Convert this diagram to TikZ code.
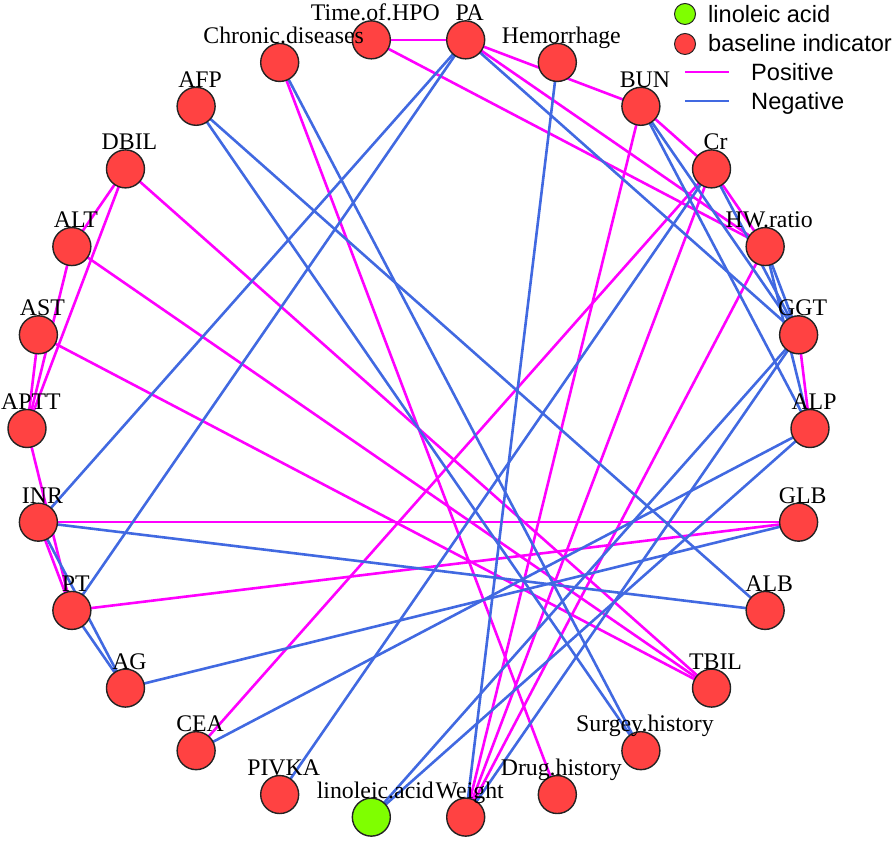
\documentclass[tikz,border=0pt]{standalone}
\usepackage{fontspec}
\setmainfont{Liberation Serif}
\newfontfamily\legfont{Liberation Sans}
\pgfdeclarelayer{edges}
\pgfsetlayers{edges,main}
\definecolor{nred}{RGB}{255,66,66}
\definecolor{ngreen}{RGB}{127,255,0}
\definecolor{pos}{RGB}{255,0,255}
\definecolor{neg}{RGB}{65,105,225}
\definecolor{nborder}{RGB}{35,35,35}
\tikzset{
  rn/.style={circle,draw=nborder,line width=1.4,fill=nred,minimum size=38,inner sep=0},
  gn/.style={rn,fill=ngreen},
  lbl/.style={anchor=base,inner sep=0,font=\fontsize{23.8}{25}\selectfont},
  posedge/.style={draw=pos,line width=2.6},
  negedge/.style={draw=neg,line width=2.6},
  legtext/.style={anchor=base west,inner sep=0,font=\legfont\fontsize{23.6}{25}\selectfont},
  legdot/.style={circle,draw=nborder,line width=1.0,minimum size=21,inner sep=0}
}
\begin{document}
\begin{tikzpicture}[x=1pt,y=1pt]
\useasboundingbox (0,0) rectangle (896,843);
\coordinate (C) at (418.5,414.5);
% nodes on the circle
\foreach \k/\nm/\st in {0/ALP/rn,1/GGT/rn,2/HW/rn,3/Cr/rn,4/BUN/rn,5/Hem/rn,6/PA/rn,7/TH/rn,8/Chr/rn,9/AFP/rn,10/DBIL/rn,11/ALT/rn,12/AST/rn,13/APTT/rn,14/INR/rn,15/PT/rn,16/AG/rn,17/CEA/rn,18/PIVKA/rn,19/LA/gn,20/Wt/rn,21/Drug/rn,22/Surg/rn,23/TBIL/rn,24/ALB/rn,25/GLB/rn}{
  \path (C) ++({\k*360/26}:391.5) node[\st] (\nm) {};
}
% edges
\begin{pgfonlayer}{edges}
\foreach \a/\b in {TH/PA,TH/HW,PA/BUN,PA/HW,Chr/Drug,DBIL/TBIL,ALT/TBIL,AST/TBIL,DBIL/ALT,DBIL/APTT,ALT/APTT,AST/APTT,APTT/PT,INR/PT,INR/GLB,PT/GLB,BUN/Wt,Cr/Wt,HW/Wt,Cr/CEA,BUN/Cr,Cr/HW,GGT/ALP}{
  \draw[posedge] (\a.center) -- (\b.center);
}
\foreach \a/\b in {PA/GGT,PA/INR,PA/PT,Hem/Wt,Chr/Surg,AFP/Surg,AFP/ALB,INR/ALB,INR/AG,PT/AG,AG/GLB,CEA/ALP,PIVKA/Cr,LA/GGT,LA/ALP,GGT/Wt,BUN/GGT,BUN/ALP,Cr/GGT,HW/GGT,HW/ALP}{
  \draw[negedge] (\a.center) -- (\b.center);
}
\end{pgfonlayer}
% labels
\foreach \nm/\tx in {ALP/ALP,GGT/GGT,HW/HW.ratio,Cr/Cr,BUN/BUN,Hem/Hemorrhage,PA/PA,TH/Time.of.HPO,Chr/Chronic.diseases,AFP/AFP,DBIL/DBIL,ALT/ALT,AST/AST,APTT/APTT,INR/INR,PT/PT,AG/AG,CEA/CEA,PIVKA/PIVKA,LA/linoleic.acid,Wt/Weight,Drug/Drug.history,Surg/Surgey.history,TBIL/TBIL,ALB/ALB,GLB/GLB}{
  \node[lbl] (\nm l) at ([shift={(4,19)}]\nm.center) {\tx};
}
% legend
\node[legdot,fill=ngreen] (lg1) at (685,829) {};
\node[legdot,fill=nred] (lg2) at (685,799) {};
\coordinate (lp1) at (685,771);
\coordinate (lp2) at (729,771);
\coordinate (ln1) at (685,742);
\coordinate (ln2) at (729,742);
\draw[draw=pos,line width=1.6] (lp1) -- (lp2);
\draw[draw=neg,line width=1.6] (ln1) -- (ln2);
\node[legtext] (lt1) at (708,820) {linoleic acid};
\node[legtext] (lt2) at (708,791) {baseline indicator};
\node[legtext] (lt3) at (751,762) {Positive};
\node[legtext] (lt4) at (751,733) {Negative};
\end{tikzpicture}
\end{document}
